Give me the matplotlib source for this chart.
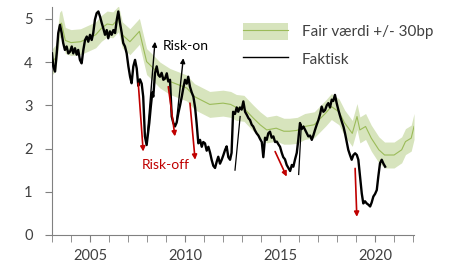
import matplotlib
matplotlib.use("Agg")
import matplotlib.pyplot as plt
from matplotlib.patches import Patch
from matplotlib.lines import Line2D
import numpy as np

plt.rcParams['font.family'] = ['Lato', 'DejaVu Sans']

akt_year = [2003.00, 2003.07, 2003.16, 2003.25, 2003.33, 2003.42, 2003.51, 2003.59, 2003.68, 2003.77,
            2003.86, 2003.95, 2004.04, 2004.12, 2004.21, 2004.30, 2004.38, 2004.47, 2004.56, 2004.65,
            2004.74, 2004.83, 2004.91, 2005.00, 2005.09, 2005.17, 2005.26, 2005.35, 2005.44, 2005.53,
            2005.62, 2005.70, 2005.79, 2005.88, 2005.96, 2006.05, 2006.14, 2006.23, 2006.32, 2006.41,
            2006.49, 2006.58, 2006.67, 2006.75, 2006.84, 2006.93, 2007.02, 2007.11, 2007.19, 2007.28,
            2007.37, 2007.46, 2007.54, 2007.63, 2007.72, 2007.80, 2007.89, 2007.98, 2008.07, 2008.12,
            2008.20, 2008.28, 2008.33, 2008.42, 2008.51, 2008.60, 2008.68, 2008.77, 2008.86, 2008.95,
            2009.04, 2009.12, 2009.21, 2009.30, 2009.38, 2009.47, 2009.56, 2009.65, 2009.74, 2009.83,
            2009.91, 2010.00, 2010.09, 2010.17, 2010.26, 2010.35, 2010.44, 2010.53, 2010.61, 2010.70,
            2010.79, 2010.88, 2010.96, 2011.05, 2011.14, 2011.23, 2011.32, 2011.40, 2011.49, 2011.58,
            2011.67, 2011.75, 2011.84, 2011.93, 2012.02, 2012.11, 2012.19, 2012.28, 2012.37, 2012.45,
            2012.53, 2012.63, 2012.72, 2012.80, 2012.89, 2012.98, 2013.07, 2013.16, 2013.25, 2013.34,
            2013.42, 2013.51, 2013.59, 2013.68, 2013.77, 2013.86, 2013.95, 2014.04, 2014.12, 2014.21,
            2014.30, 2014.38, 2014.47, 2014.56, 2014.65, 2014.74, 2014.83, 2014.91, 2015.00, 2015.09,
            2015.17, 2015.26, 2015.35, 2015.44, 2015.53, 2015.62, 2015.70, 2015.79, 2015.88, 2015.96,
            2016.05, 2016.14, 2016.23, 2016.32, 2016.41, 2016.49, 2016.58, 2016.67, 2016.75, 2016.84,
            2016.93, 2017.02, 2017.11, 2017.19, 2017.28, 2017.37, 2017.46, 2017.54, 2017.63, 2017.72,
            2017.80, 2017.89, 2017.98, 2018.07, 2018.16, 2018.25, 2018.34, 2018.42, 2018.51, 2018.59,
            2018.68, 2018.77, 2018.86, 2018.95, 2019.04, 2019.12, 2019.21, 2019.30, 2019.38, 2019.47,
            2019.56, 2019.65, 2019.74, 2019.82, 2019.91, 2020.00, 2020.09, 2020.17, 2020.26, 2020.35,
            2020.44, 2020.53]
akt_val = [4.20, 3.90, 3.78, 4.20, 4.67, 4.86, 4.67, 4.44, 4.28, 4.36,
           4.20, 4.24, 4.36, 4.20, 4.32, 4.17, 4.28, 4.05, 3.97, 4.28,
           4.51, 4.59, 4.47, 4.63, 4.51, 4.67, 4.98, 5.13, 5.17, 5.05,
           4.90, 4.78, 4.63, 4.74, 4.55, 4.71, 4.63, 4.74, 4.67, 4.98,
           5.17, 4.90, 4.67, 4.44, 4.36, 4.20, 3.90, 3.66, 3.51, 3.90,
           4.05, 3.85, 3.45, 3.60, 3.50, 3.20, 2.28, 2.08, 2.40, 2.59,
           2.97, 3.30, 3.20, 3.74, 3.90, 3.70, 3.66, 3.75, 3.59, 3.62,
           3.74, 3.55, 3.59, 2.74, 2.60, 2.51, 2.60, 2.82, 3.00, 3.20,
           3.40, 3.59, 3.50, 3.66, 3.43, 3.30, 3.20, 2.95, 2.59, 2.12,
           2.20, 2.04, 2.15, 2.12, 1.95, 2.04, 1.90, 1.74, 1.60, 1.55,
           1.70, 1.81, 1.65, 1.74, 1.85, 1.97, 2.05, 1.80, 1.74, 1.90,
           2.85, 2.80, 2.95, 2.85, 2.95, 2.90, 3.09, 2.85, 2.78, 2.70,
           2.66, 2.55, 2.51, 2.42, 2.35, 2.30, 2.22, 2.15, 1.80, 2.25,
           2.20, 2.35, 2.39, 2.25, 2.28, 2.15, 2.16, 2.10, 2.04, 1.90,
           1.80, 1.75, 1.62, 1.55, 1.48, 1.62, 1.58, 1.75, 1.90, 2.20,
           2.59, 2.45, 2.51, 2.43, 2.35, 2.28, 2.30, 2.20, 2.30, 2.43,
           2.55, 2.66, 2.80, 2.97, 2.85, 2.89, 3.00, 3.05, 2.95, 3.13,
           3.10, 3.24, 3.05, 2.89, 2.75, 2.62, 2.50, 2.35, 2.15, 1.97,
           1.85, 1.74, 1.85, 1.89, 1.85, 1.74, 1.35, 0.96, 0.73, 0.78,
           0.73, 0.70, 0.66, 0.75, 0.89, 0.95, 1.04, 1.35, 1.66, 1.74,
           1.65, 1.58]

# extra thin jumps in the actual series
jump_year = [[2012.63, 2012.90], [2015.98, 2016.12]]
jump_val = [[1.50, 2.74], [1.40, 2.55]]

# Fair value (centre of band)
fair_year = [2003.0, 2003.2, 2003.4, 2003.5, 2003.7, 2004.0, 2004.5, 2004.9, 2005.3, 2005.6,
             2005.9, 2006.2, 2006.5, 2006.7, 2007.1, 2007.6, 2007.98, 2008.33, 2008.68, 2009.21,
             2010.09, 2010.5, 2011.3, 2012.0, 2012.4, 2012.7, 2013.1, 2013.6, 2013.95, 2014.3,
             2014.8, 2015.2, 2015.5, 2015.9, 2016.3, 2016.8, 2017.4, 2017.7, 2018.1, 2018.4,
             2018.8, 2019.05, 2019.2, 2019.5, 2019.8, 2020.2, 2020.5, 2021.0, 2021.4, 2021.6,
             2021.9, 2022.05]
fair_val = [4.00, 4.10, 4.85, 4.90, 4.50, 4.45, 4.47, 4.55, 4.63, 4.78,
            4.88, 4.86, 5.00, 4.63, 4.47, 4.71, 4.01, 3.86, 3.70, 3.55,
            3.40, 3.20, 3.02, 3.05, 3.02, 2.95, 2.93, 2.70, 2.55, 2.43,
            2.47, 2.40, 2.40, 2.42, 2.51, 2.55, 2.82, 2.97, 2.85, 2.59,
            2.35, 2.74, 2.43, 2.51, 2.24, 1.97, 1.85, 1.85, 1.97, 2.16,
            2.24, 2.51]
band = 0.3

# arrows: (year0, val0, year1, val1)
risk_off = [(2007.54, 3.51, 2007.80, 1.93),
            (2009.12, 3.43, 2009.47, 2.28),
            (2010.26, 3.05, 2010.53, 1.74),
            (2014.74, 1.93, 2015.35, 1.35),
            (2018.95, 1.54, 2019.04, 0.42)]
risk_on = [(2007.98, 2.10, 2008.42, 4.47),
           (2009.56, 2.66, 2009.91, 4.09)]

green_fill = '#d7e4bd'
green_line = '#9bbb59'
red = '#c00000'
txt = '#404040'

fig = plt.figure(figsize=(4.52, 2.63), dpi=100)
ax = fig.add_axes([0.115, 0.1065, 0.801, 0.868])

fy = np.array(fair_year)
fv = np.array(fair_val)
ax.fill_between(fy, fv - band, fv + band, color=green_fill, lw=0, zorder=1)
ax.plot(fy, fv, color=green_line, lw=0.8, zorder=2)

ax.plot(akt_year, akt_val, color='black', lw=1.7, zorder=3)
for yy, vv in zip(jump_year, jump_val):
    ax.plot(yy, vv, color='black', lw=0.9, zorder=3)

for x0, y0, x1, y1 in risk_off:
    ax.annotate('', xy=(x1, y1), xytext=(x0, y0),
                arrowprops=dict(arrowstyle='-|>', color=red, lw=1.2,
                                mutation_scale=7, shrinkA=0, shrinkB=0), zorder=4)
for x0, y0, x1, y1 in risk_on:
    ax.annotate('', xy=(x1, y1), xytext=(x0, y0),
                arrowprops=dict(arrowstyle='-|>', color='black', lw=1.0,
                                mutation_scale=7, shrinkA=0, shrinkB=0), zorder=4)

ax.text(2008.84, 4.36, 'Risk-on', color='black', fontsize=10, va='center')
ax.text(2007.72, 1.62, 'Risk-off', color=red, fontsize=10, va='center')

ax.set_xlim(2003.0, 2022.05)
ax.set_ylim(0, 5.28)
ax.set_yticks([0, 1, 2, 3, 4, 5])
ax.set_xticks([2005, 2010, 2015, 2020])
ax.set_xticks(np.arange(2003, 2023), minor=True)
ax.tick_params(axis='both', which='both', colors='#808080', labelcolor=txt, labelsize=10.5)
ax.tick_params(axis='y', length=5, pad=9)
ax.tick_params(axis='x', which='both', length=5, pad=5)
for s in ['top', 'right']:
    ax.spines[s].set_visible(False)
for s in ['left', 'bottom']:
    ax.spines[s].set_color('#808080')

h1 = (Patch(facecolor=green_fill, edgecolor='none'), Line2D([], [], color=green_line, lw=0.8))
h2 = Line2D([], [], color='black', lw=1.0)
ax.legend([h1, h2], ['Fair værdi +/- 30bp', 'Faktisk'], loc='upper left',
          bbox_to_anchor=(0.528, 0.93), frameon=False, fontsize=11,
          handlelength=2.95, handleheight=1.37, labelspacing=0.65,
          handletextpad=0.9, borderpad=0, borderaxespad=0, labelcolor=txt)

fig.savefig('out.png', dpi=100)
